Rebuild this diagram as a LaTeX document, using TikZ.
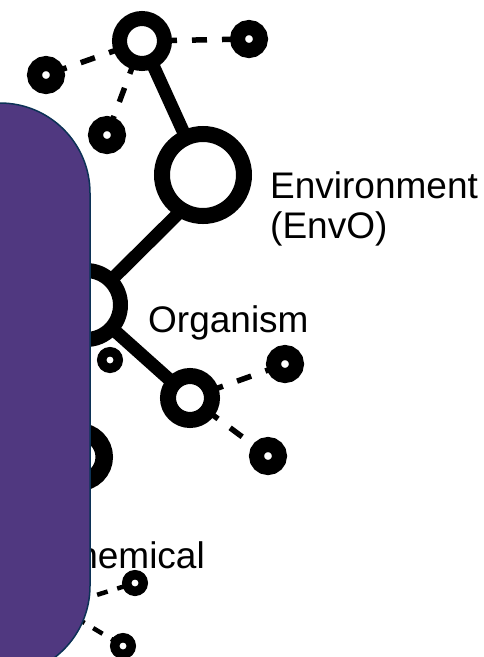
\documentclass[tikz,border=0pt]{standalone}
\usepackage{fontspec}
\setmainfont{Liberation Sans}
\usetikzlibrary{calc,backgrounds}
\definecolor{boxpurple}{RGB}{80,56,128}
\definecolor{boxedge}{RGB}{12,50,86}
\begin{document}
\begin{tikzpicture}[x=1pt,y=-1pt,
  ring/.style 2 args={circle, draw=black, fill=white, line width=#1pt, minimum size=#2pt, inner sep=0pt, outer sep=0pt},
  dotbig/.style={ring={15}{23}},
  dotsmall/.style={ring={9.5}{16.5}},
  stem/.style={line width=13pt},
  dashline/.style={line width=5.5pt, dash pattern=on 15pt off 15pt},
  dashsmall/.style={line width=4.5pt, dash pattern=on 11pt off 10pt},
  lbl/.style={font=\fontsize{37}{40}\selectfont, inner sep=0pt}]
\useasboundingbox (0,0) rectangle (484,657);
% rings
\node[ring={15}{45}] (T) at (142,41) {};
\node[ring={16}{82}] (E) at (203,175) {};
\node[ring={15}{69}] (O) at (86,305) {};
\node[ring={16}{44}] (P) at (190,398) {};
\node[ring={17.5}{50.5}] (C) at (79,457) {};
\node[ring={12}{36}] (H) at (58,607) {};
% dots
\node[dotbig] (D1) at (249,39) {};
\node[dotbig] (D2) at (46,75) {};
\node[dotbig] (D3) at (107,135) {};
\node[dotbig] (D4) at (285,364) {};
\node[dotbig] (D5) at (268,456) {};
\node[dotsmall] (D8) at (110,360) {};
\node[dotsmall] (D6) at (135,583) {};
\node[dotsmall] (D7) at (123,646) {};
\coordinate (Ej) at (200,192);
\begin{pgfonlayer}{background}
  \draw[stem] (T) -- (E);
  \draw[stem] (O) -- (Ej);
  \draw[stem] (O) -- (P);
  \draw[stem] (O) -- (C);
  \draw[dashline] ($(T)!20pt!(D1)$) -- (D1);
  \draw[dashline] ($(T)!20pt!(D2)$) -- (D2);
  \draw[dashline] ($(T)!20pt!(D3)$) -- (D3);
  \draw[dashline] ($(P)!20pt!(D4)$) -- (D4);
  \draw[dashline] ($(P)!20pt!(D5)$) -- (D5);
  \draw[dashsmall] ($(H)!20pt!(D6)$) -- (D6);
  \draw[dashsmall] ($(H)!20pt!(D7)$) -- (D7);
\end{pgfonlayer}
% labels
\node[lbl, anchor=base west] (env1) at (270,198) {Environment};
\node[lbl, anchor=base west] (env2) at (270,238) {(EnvO)};
\node[lbl, anchor=base west] (org) at (148,332) {Organism};
\node[lbl, anchor=base east] (chem) at (205,568) {Chemical};
% purple panel
\filldraw[fill=boxpurple, draw=boxedge, line width=1.5pt, rounded corners=90pt] (-200,103) rectangle (90,676);
\end{tikzpicture}
\end{document}
